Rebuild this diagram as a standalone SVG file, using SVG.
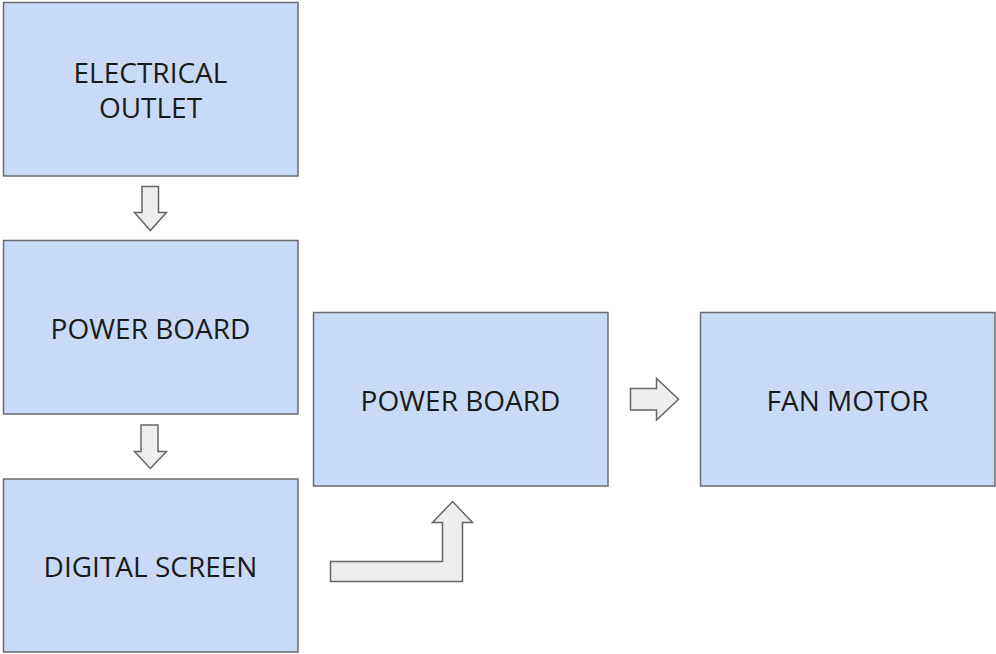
<svg xmlns="http://www.w3.org/2000/svg" width="996" height="654" viewBox="0 0 996 654">
<style>
.box{fill:#c9daf8;stroke:#6b6b6b;stroke-width:1.5}
.lbl{font-family:"Open Sans","Liberation Sans",sans-serif;font-size:28px;fill:#1a1a1a;text-anchor:middle}
.arr{fill:#eeeeee;stroke:#666666;stroke-width:1.5;stroke-linejoin:miter}
</style>
<rect width="996" height="654" fill="#ffffff"/>
<g id="electrical-outlet">
<rect class="box" x="3.5" y="2.5" width="294.5" height="173.5"/>
<text class="lbl" x="150.5" y="83">ELECTRICAL</text>
<text class="lbl" x="150.5" y="118">OUTLET</text>
</g>
<g id="power-board-1">
<rect class="box" x="3.5" y="240.5" width="294.5" height="173.5"/>
<text class="lbl" x="150.5" y="339">POWER BOARD</text>
</g>
<g id="digital-screen">
<rect class="box" x="3.5" y="479" width="294.5" height="173"/>
<text class="lbl" x="150.5" y="577">DIGITAL SCREEN</text>
</g>
<g id="power-board-2">
<rect class="box" x="313.5" y="312.5" width="294.5" height="173.5"/>
<text class="lbl" x="460.5" y="411">POWER BOARD</text>
</g>
<g id="fan-motor">
<rect class="box" x="700.5" y="312.5" width="294.5" height="173.5"/>
<text class="lbl" x="847.5" y="411">FAN MOTOR</text>
</g>
<g id="connectors">
<path class="arr" d="M142 186.5 H158.5 V212.5 H166.5 L150.3 230.5 L134.5 212.5 H142 Z"/>
<path class="arr" d="M141 425 H158 V451.5 H166.5 L150.3 468.5 L134.5 451.5 H141 Z"/>
<path class="arr" d="M630.5 388.5 H656.5 V378.5 L678.5 399.2 L656.5 420 V410 H630.5 Z"/>
<path class="arr" d="M330.5 561.5 H442.5 V522.5 H432.5 L452.6 501.5 L472.5 522.5 H462.5 V581.5 H330.5 Z"/>
</g>
</svg>
